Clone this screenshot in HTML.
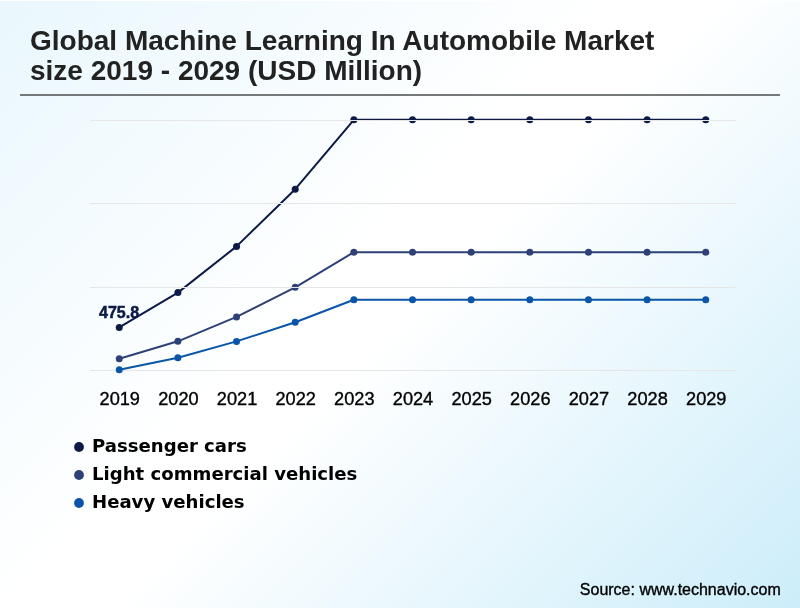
<!DOCTYPE html>
<html><head><meta charset="utf-8"><style>
html,body{margin:0;padding:0;}
body{width:800px;height:610px;overflow:hidden;background:#fff;position:relative;}
#bg{position:absolute;left:0;top:1px;width:800px;height:607px;background:linear-gradient(135deg,#e9f7fd 0%,#ffffff 44%,#ffffff 51%,#ccedfa 100%);}
svg{position:absolute;left:0;top:0;}
.t{font-family:"Liberation Sans",Arial,sans-serif;font-weight:bold;font-size:28px;fill:#222;}
.ax{font-family:"Liberation Sans",Arial,sans-serif;font-size:18.2px;fill:#000;stroke:#000;stroke-width:0.35px;text-anchor:middle;}
.lg{font-family:"DejaVu Sans",sans-serif;font-weight:bold;font-size:18.1px;fill:#000;}
.src{font-family:"Liberation Sans",Arial,sans-serif;font-size:16px;fill:#000;stroke:#000;stroke-width:0.35px;}
.dl{font-family:"Liberation Sans",Arial,sans-serif;font-weight:bold;font-size:16px;fill:#0c1a45;stroke:#0c1a45;stroke-width:0.5px;}
</style></head><body>
<div id="bg"></div>
<svg width="800" height="610" viewBox="0 0 800 610">
<text class="t" x="30" y="50">Global Machine Learning In Automobile Market</text>
<text class="t" x="30" y="80">size 2019 - 2029 (USD Million)</text>
<rect x="20" y="94" width="760" height="2" fill="#76797a"/>
<rect x="90" y="370" width="646" height="1" fill="#e6e6e6"/>
<g fill="none" stroke-width="2" stroke-linejoin="round">
<path d="M119.25 369.80 L177.90 357.70 L236.55 341.40 L295.20 322.30 L353.85 299.70 L412.50 299.70 L471.15 299.70 L529.80 299.70 L588.45 299.70 L647.10 299.70 L705.75 299.70" stroke="#0b55a8"/>
<path d="M119.25 358.80 L177.90 341.30 L236.55 316.90 L295.20 287.30 L353.85 252.20 L412.50 252.20 L471.15 252.20 L529.80 252.20 L588.45 252.20 L647.10 252.20 L705.75 252.20" stroke="#2d4177"/>
<path d="M119.25 327.40 L177.90 292.60 L236.55 246.40 L295.20 189.20 L353.85 119.80 L412.50 119.80 L471.15 119.80 L529.80 119.80 L588.45 119.80 L647.10 119.80 L705.75 119.80" stroke="#0c1a45"/>
</g>
<circle cx="119.25" cy="369.80" r="3.5" fill="#0b55a8"/><circle cx="177.90" cy="357.70" r="3.5" fill="#0b55a8"/><circle cx="236.55" cy="341.40" r="3.5" fill="#0b55a8"/><circle cx="295.20" cy="322.30" r="3.5" fill="#0b55a8"/><circle cx="353.85" cy="299.70" r="3.5" fill="#0b55a8"/><circle cx="412.50" cy="299.70" r="3.5" fill="#0b55a8"/><circle cx="471.15" cy="299.70" r="3.5" fill="#0b55a8"/><circle cx="529.80" cy="299.70" r="3.5" fill="#0b55a8"/><circle cx="588.45" cy="299.70" r="3.5" fill="#0b55a8"/><circle cx="647.10" cy="299.70" r="3.5" fill="#0b55a8"/><circle cx="705.75" cy="299.70" r="3.5" fill="#0b55a8"/><circle cx="119.25" cy="358.80" r="3.5" fill="#2d4177"/><circle cx="177.90" cy="341.30" r="3.5" fill="#2d4177"/><circle cx="236.55" cy="316.90" r="3.5" fill="#2d4177"/><circle cx="295.20" cy="287.30" r="3.5" fill="#2d4177"/><circle cx="353.85" cy="252.20" r="3.5" fill="#2d4177"/><circle cx="412.50" cy="252.20" r="3.5" fill="#2d4177"/><circle cx="471.15" cy="252.20" r="3.5" fill="#2d4177"/><circle cx="529.80" cy="252.20" r="3.5" fill="#2d4177"/><circle cx="588.45" cy="252.20" r="3.5" fill="#2d4177"/><circle cx="647.10" cy="252.20" r="3.5" fill="#2d4177"/><circle cx="705.75" cy="252.20" r="3.5" fill="#2d4177"/><circle cx="119.25" cy="327.40" r="3.5" fill="#0c1a45"/><circle cx="177.90" cy="292.60" r="3.5" fill="#0c1a45"/><circle cx="236.55" cy="246.40" r="3.5" fill="#0c1a45"/><circle cx="295.20" cy="189.20" r="3.5" fill="#0c1a45"/><circle cx="353.85" cy="119.80" r="3.5" fill="#0c1a45"/><circle cx="412.50" cy="119.80" r="3.5" fill="#0c1a45"/><circle cx="471.15" cy="119.80" r="3.5" fill="#0c1a45"/><circle cx="529.80" cy="119.80" r="3.5" fill="#0c1a45"/><circle cx="588.45" cy="119.80" r="3.5" fill="#0c1a45"/><circle cx="647.10" cy="119.80" r="3.5" fill="#0c1a45"/><circle cx="705.75" cy="119.80" r="3.5" fill="#0c1a45"/>
<rect x="90" y="120" width="646" height="1" fill="#e6e6e6"/>
<rect x="90" y="203" width="646" height="1" fill="#e6e6e6"/>
<rect x="90" y="287" width="646" height="1" fill="#e6e6e6"/>
<text class="dl" x="99" y="318">475.8</text>
<g class="ax"><text x="119.75" y="405">2019</text><text x="178.40" y="405">2020</text><text x="237.05" y="405">2021</text><text x="295.70" y="405">2022</text><text x="354.35" y="405">2023</text><text x="413.00" y="405">2024</text><text x="471.65" y="405">2025</text><text x="530.30" y="405">2026</text><text x="588.95" y="405">2027</text><text x="647.60" y="405">2028</text><text x="706.25" y="405">2029</text></g>
<circle cx="79" cy="447" r="4.9" fill="#0c1a45"/>
<circle cx="79" cy="475" r="4.9" fill="#2d4177"/>
<circle cx="79" cy="503" r="4.9" fill="#0b55a8"/>
<text class="lg" x="92" y="452">Passenger cars</text>
<text class="lg" x="92" y="480">Light commercial vehicles</text>
<text class="lg" x="92" y="508">Heavy vehicles</text>
<text class="src" x="780.8" y="595" text-anchor="end">Source: www.technavio.com</text>
</svg>
</body></html>
